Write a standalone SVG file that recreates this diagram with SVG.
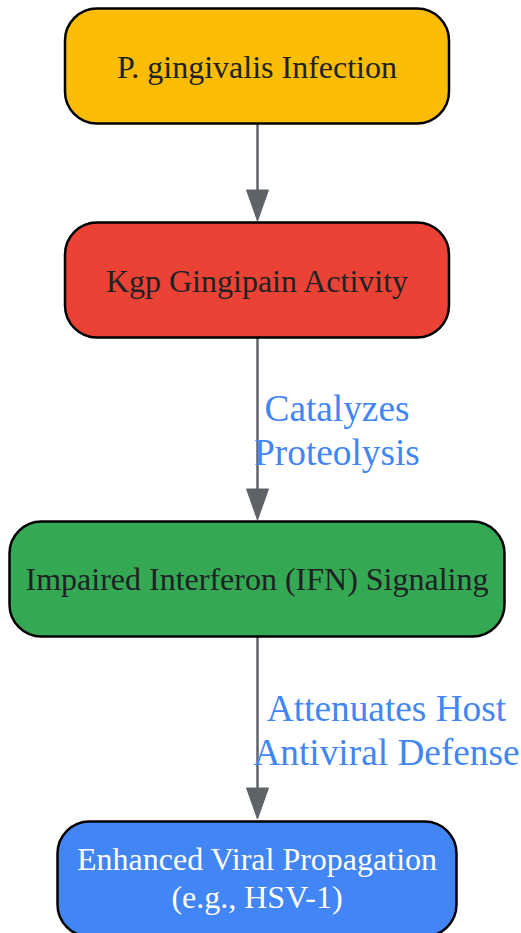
<svg xmlns="http://www.w3.org/2000/svg" width="521" height="933" viewBox="0 0 521 933">
<style>
.n{stroke:#000;stroke-width:2.5}
.t{font-family:"Liberation Serif","Times New Roman",serif;font-size:32px;fill:#202124;text-anchor:middle}
.w{fill:#fff}
.e{stroke:#5f6368;stroke-width:2.5;fill:none}
.h{fill:#5f6368;stroke:#5f6368;stroke-width:1}
.l{font-family:"Liberation Serif","Times New Roman",serif;font-size:37.3px;fill:#4285f4;text-anchor:middle}
</style>
<rect width="521" height="933" fill="#fff"/>
<g id="connectors">
<line class="e" x1="257.5" y1="124" x2="257.5" y2="191"/>
<polygon class="h" points="246.5,190 268.5,190 257.5,221"/>
<line class="e" x1="257.5" y1="338" x2="257.5" y2="490"/>
<polygon class="h" points="246.5,489 268.5,489 257.5,520"/>
<text class="l" x="337" y="421">Catalyzes</text>
<text class="l" x="337" y="465">Proteolysis</text>
<line class="e" x1="257.5" y1="637" x2="257.5" y2="789"/>
<polygon class="h" points="246.5,788 268.5,788 257.5,819"/>
<text class="l" x="386.5" y="721">Attenuates Host</text>
<text class="l" x="386.5" y="765">Antiviral Defense</text>
</g>
<g id="node1">
<rect class="n" x="65" y="8.5" width="384" height="115" rx="32" fill="#fbbc04"/>
<text class="t" x="257" y="78">P. gingivalis Infection</text>
</g>
<g id="node2">
<rect class="n" x="65" y="222.5" width="384" height="115" rx="32" fill="#ea4335"/>
<text class="t" x="257" y="292">Kgp Gingipain Activity</text>
</g>
<g id="node3">
<rect class="n" x="9.5" y="521.5" width="495" height="115" rx="32" fill="#34a853"/>
<text class="t" x="257" y="590">Impaired Interferon (IFN) Signaling</text>
</g>
<g id="node4">
<rect class="n" x="57.5" y="821.5" width="399" height="115" rx="32" fill="#4285f4"/>
<text class="t w" x="257" y="870">Enhanced Viral Propagation</text>
<text class="t w" x="257" y="908">(e.g., HSV-1)</text>
</g>
</svg>
